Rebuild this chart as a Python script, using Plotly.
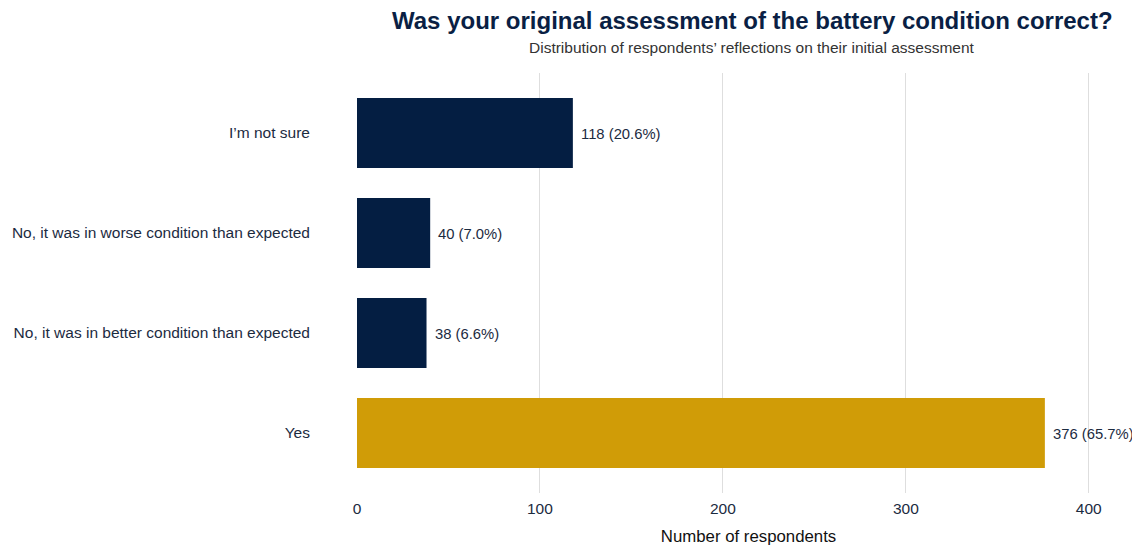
import plotly.graph_objects as go

categories = ["Yes", "No, it was in better condition than expected",
              "No, it was in worse condition than expected", "I’m not sure"]
counts = [376, 38, 40, 118]
percents = [65.7, 6.6, 7.0, 20.6]
bar_colors = ["#D09C07", "#041E42", "#041E42", "#041E42"]
x_ticks = [0, 100, 200, 300, 400]

labels = [f"{c} ({p:.1f}%)" for c, p in zip(counts, percents)]
text_color = "#1C2B3F"
FONT = "Liberation Sans, Arial, sans-serif"

# page body has an 8px margin, so the figure is sized/positioned accordingly
W, H = 1132, 538
l, r, t, b = 349, 0, 65, 53
pw, ph = W - l - r, H - t - b
def px(x): return (x - l) / pw
def py(y): return 1 - (y - t) / ph

fig = go.Figure(go.Bar(
    x=counts, y=categories, orientation="h",
    marker=dict(color=bar_colors, line=dict(width=0)),
    width=0.7, hoverinfo="x+y",
))

annotations = [
    dict(text="<b>Was your original assessment of the battery condition correct?</b>",
         x=px(744), y=py(12), xref="paper", yref="paper", xanchor="center", yanchor="middle",
         showarrow=False, font=dict(size=24, color="#0A1F44", family=FONT)),
    dict(text="Distribution of respondents’ reflections on their initial assessment",
         x=px(744), y=py(39), xref="paper", yref="paper", xanchor="center", yanchor="middle",
         showarrow=False, font=dict(size=15.5, color="#333333", family=FONT)),
]
for c, cat, lab in zip(counts, categories, labels):
    annotations.append(dict(text=lab, x=c, y=cat, xref="x", yref="y",
                            xanchor="left", yanchor="middle", xshift=6, yshift=-1,
                            showarrow=False,
                            font=dict(size=14.8, color=text_color, family=FONT)))

fig.update_layout(
    width=W, height=H,
    paper_bgcolor="white", plot_bgcolor="white",
    margin=dict(l=l, r=r, t=t, b=b, autoexpand=False),
    font=dict(family=FONT, size=15.5, color=text_color),
    showlegend=False,
    annotations=annotations,
)

fig.update_xaxes(
    range=[0, 428], tickvals=x_ticks, showgrid=True, gridcolor="#DEDEDE", gridwidth=1,
    zeroline=False, showline=False, ticks="", automargin=False,
    ticklabelstandoff=4,
    title=dict(text="Number of respondents", font=dict(size=16.8, color="#111111"), standoff=14),
    tickfont=dict(size=15.5, color=text_color),
)
fig.update_yaxes(
    categoryorder="array", categoryarray=categories, automargin=False,
    range=[-0.6, 3.6], showgrid=False, zeroline=False, showline=False, ticks="",
    ticklabelstandoff=46, tickfont=dict(size=15.5, color=text_color),
)

fig.write_html("out.html")
